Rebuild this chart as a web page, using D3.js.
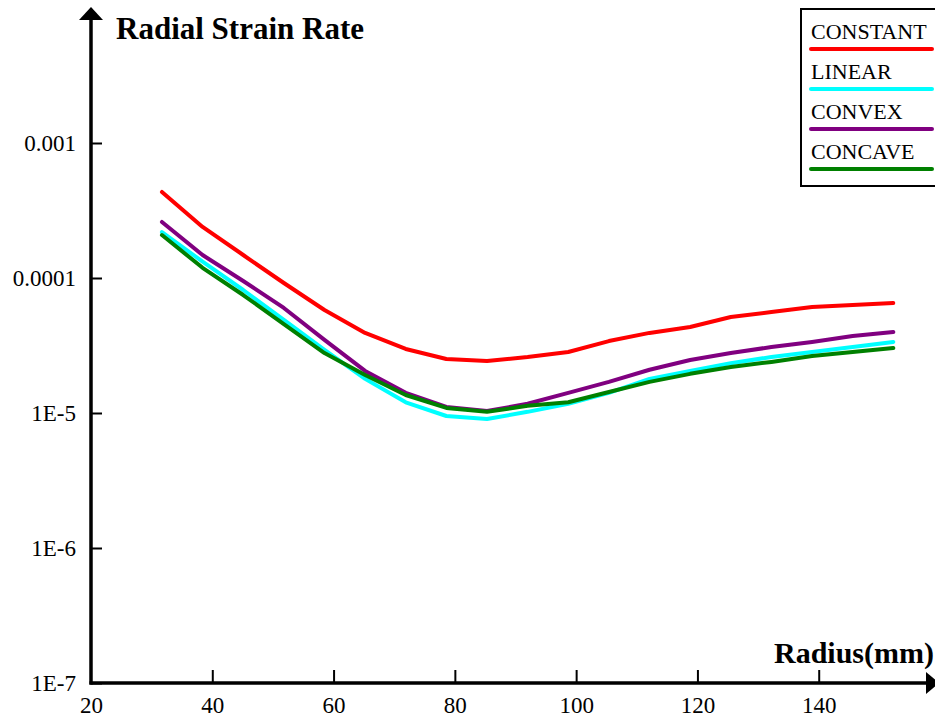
<!DOCTYPE html>
<html>
<head>
<meta charset="utf-8">
<script src="https://cdn.jsdelivr.net/npm/d3@7"></script>
<style>
  body { margin: 0; background: #fff; }
  svg text { font-family: "Liberation Serif", "Times New Roman", serif; fill: #000; }
</style>
</head>
<body>
<div id="chart"></div>
<script>
width = 935
height = 718

// radius (mm) where each curve is sampled
radius = [31.7, 38.4, 45.1, 51.8, 58.5, 65.2, 71.9, 78.6, 85.3, 92.0, 98.7, 105.4, 112.1, 118.8, 125.5, 132.2, 138.9, 145.6, 152.3]

constantRate = [4.34e-4, 2.39e-4, 1.48e-4, 9.18e-5, 5.79e-5, 3.92e-5, 2.98e-5, 2.51e-5, 2.43e-5, 2.60e-5, 2.83e-5, 3.41e-5, 3.92e-5, 4.34e-5, 5.14e-5, 5.60e-5, 6.09e-5, 6.31e-5, 6.53e-5]
linearRate   = [2.19e-4, 1.32e-4, 8.15e-5, 4.89e-5, 2.93e-5, 1.79e-5, 1.20e-5, 9.5e-6, 9.04e-6, 1.02e-5, 1.17e-5, 1.41e-5, 1.79e-5, 2.05e-5, 2.34e-5, 2.60e-5, 2.83e-5, 3.08e-5, 3.36e-5]
convexRate   = [2.60e-4, 1.48e-4, 9.51e-5, 6.00e-5, 3.48e-5, 2.05e-5, 1.41e-5, 1.11e-5, 1.035e-5, 1.17e-5, 1.41e-5, 1.70e-5, 2.09e-5, 2.47e-5, 2.78e-5, 3.08e-5, 3.36e-5, 3.72e-5, 3.98e-5]
concaveRate  = [2.08e-4, 1.19e-4, 7.48e-5, 4.56e-5, 2.78e-5, 1.91e-5, 1.36e-5, 1.09e-5, 1.02e-5, 1.13e-5, 1.20e-5, 1.43e-5, 1.70e-5, 1.95e-5, 2.19e-5, 2.39e-5, 2.64e-5, 2.83e-5, 3.03e-5]

seriesNames = ["CONSTANT", "LINEAR", "CONVEX", "CONCAVE"]
seriesColors = ["#ff0000", "#00ffff", "#800080", "#008000"]

xTicks = [20, 40, 60, 80, 100, 120, 140]
yTicks = [1e-7, 1e-6, 1e-5, 1e-4, 1e-3]
yTickLabels = ["1E-7", "1E-6", "1E-5", "0.0001", "0.001"]

const series = [constantRate, linearRate, convexRate, concaveRate].map((vals, i) => ({
  name: seriesNames[i],
  color: seriesColors[i],
  values: vals.map((v, j) => ({r: radius[j], v: v}))
}))

const x = d3.scaleLinear().domain([20, 160]).range([91, 940])
const y = d3.scaleLog().domain([1e-7, 1e-2]).range([683, 8])

const svg = d3.select("#chart")
  .append("svg")
    .attr("width", width)
    .attr("height", height)

// y axis: ticks cross the axis line
const yAxis = svg.append("g")
    .attr("transform", `translate(${x(20)},0)`)
    .call(d3.axisLeft(y)
      .tickValues(yTicks)
      .tickFormat((d, i) => yTickLabels[i])
      .tickSize(12)
      .tickPadding(3))
yAxis.select(".domain").remove()
yAxis.selectAll(".tick line").attr("x2", 11).attr("stroke", "#000").attr("stroke-width", 2)
yAxis.selectAll(".tick text").attr("font-size", 23).attr("font-family", null)

// x axis: ticks point up, labels below
const xAxis = svg.append("g")
    .attr("transform", `translate(0,${y(1e-7)})`)
    .call(d3.axisBottom(x)
      .tickValues(xTicks)
      .tickFormat(d3.format("d"))
      .tickSizeInner(-13)
      .tickSizeOuter(0)
      .tickPadding(14))
xAxis.select(".domain").remove()
xAxis.selectAll(".tick line").attr("stroke", "#000").attr("stroke-width", 2)
  .filter(d => d === 20).remove()
xAxis.selectAll(".tick text").attr("font-size", 23).attr("font-family", null)

// axis lines with arrows
svg.append("line")
    .attr("x1", x(20)).attr("x2", x(20))
    .attr("y1", y(1e-7) + 1.5).attr("y2", 18)
    .attr("stroke", "#000").attr("stroke-width", 3.5)
svg.append("path")
    .attr("d", `M${x(20) - 12},20 L${x(20) + 12},20 L${x(20)},7 Z`)
    .attr("fill", "#000")

svg.append("line")
    .attr("x1", x(20) - 1.5).attr("x2", 928)
    .attr("y1", y(1e-7)).attr("y2", y(1e-7))
    .attr("stroke", "#000").attr("stroke-width", 3.5)
svg.append("path")
    .attr("d", `M926,${y(1e-7) - 11} L926,${y(1e-7) + 11} L939,${y(1e-7)} Z`)
    .attr("fill", "#000")

// axis titles
svg.append("text")
    .attr("x", 116).attr("y", 39)
    .attr("font-size", 31).attr("font-weight", "bold")
    .text("Radial Strain Rate")

svg.append("text")
    .attr("x", 934).attr("y", 663)
    .attr("text-anchor", "end")
    .attr("font-size", 30).attr("font-weight", "bold")
    .text("Radius(mm)")

// curves
const line = d3.line()
    .x(d => x(d.r))
    .y(d => y(d.v))

svg.selectAll(".series")
  .data(series)
  .enter()
  .append("path")
    .attr("class", "series")
    .attr("fill", "none")
    .attr("stroke", d => d.color)
    .attr("stroke-width", 4)
    .attr("stroke-linejoin", "round")
    .attr("stroke-linecap", "round")
    .attr("d", d => line(d.values))

// legend
const legend = svg.append("g")
    .attr("transform", "translate(801,9)")

legend.append("rect")
    .attr("x", 0).attr("y", 0)
    .attr("width", 150).attr("height", 177)
    .attr("fill", "#fff")
    .attr("stroke", "#000").attr("stroke-width", 2)

const legend_g = legend.selectAll(".legend")
  .data(series)
  .enter().append("g")
    .attr("transform", (d, i) => `translate(0,${i * 40})`)

legend_g.append("text")
    .attr("x", 10).attr("y", 30)
    .attr("font-size", 22)
    .text(d => d.name)

legend_g.append("line")
    .attr("x1", 10).attr("x2", 131)
    .attr("y1", 40).attr("y2", 40)
    .attr("stroke", d => d.color)
    .attr("stroke-width", 4)
    .attr("stroke-linecap", "round")
</script>
</body>
</html>
